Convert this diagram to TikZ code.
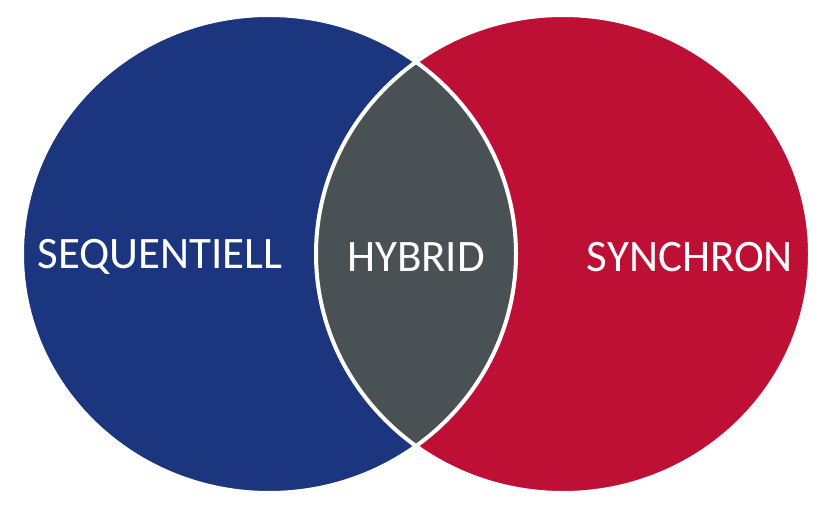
\documentclass[tikz,border=0pt]{standalone}
\usepackage{fontspec}
\setmainfont{Carlito}
\definecolor{seqblue}{HTML}{1B367E}
\definecolor{synred}{HTML}{BE1034}
\definecolor{hybgrey}{HTML}{4A5154}
\tikzset{
    lbl/.style={text=white, font=\fontsize{45}{50}\selectfont},
    rim/.style={white, line width=4pt}
}
\begin{document}
\begin{tikzpicture}[x=1pt, y=1pt]
    \useasboundingbox (0,0) rectangle (835,515);
    \fill[seqblue] (269,261) ellipse (247 and 239);
    \fill[synred] (563,261) ellipse (247 and 239);
    \begin{scope}
        \clip (269,261) ellipse (247 and 239);
        \fill[hybgrey] (563,261) ellipse (247 and 239);
    \end{scope}
    \draw[rim] (269,261) ellipse (247 and 239);
    \draw[rim] (563,261) ellipse (247 and 239);
    \node[lbl] (seq) at (160,258) {SEQUENTIELL};
    \node[lbl] (hyb) at (416,258) {HYBRID};
    \node[lbl] (syn) at (690,258) {SYNCHRON};
\end{tikzpicture}
\end{document}
